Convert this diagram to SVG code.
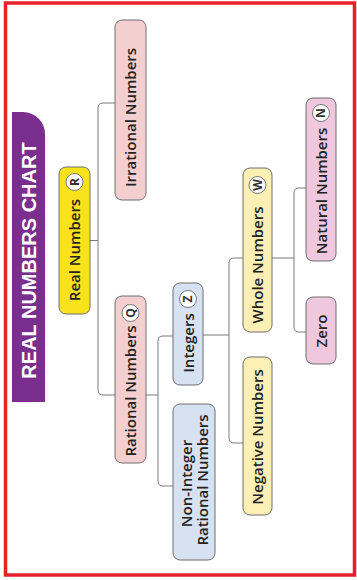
<svg xmlns="http://www.w3.org/2000/svg" width="357" height="580" viewBox="0 0 357 580">
<style>
.box{stroke:#6e6e6e;stroke-width:1}
.pink{fill:#f4cfcf}
.mag{fill:#efc8de}
.yel{fill:#f8e21c}
.lyel{fill:#fdf0b4}
.blue{fill:#d6e1f1}
.t{font-family:"Open Sans","Liberation Sans",sans-serif;font-size:15px;font-weight:600;fill:#222;text-anchor:middle}
.badge{fill:#fff;stroke:#777;stroke-width:1}
.bt{font-family:"Open Sans","Liberation Sans",sans-serif;font-size:12px;font-weight:700;fill:#333;text-anchor:middle}
.conn{fill:none;stroke:#7a7a7a;stroke-width:1}
</style>
<rect x="5.5" y="3" width="349" height="572" fill="#fff" stroke="#e8202a" stroke-width="3.5"/>
<g id="title">
<path d="M12,402 V112 H23 A22,22 0 0 1 45,134 V402 Z" fill="#7a2e8e"/>
<text transform="translate(35.5,260.5) rotate(-90)" font-family="'Liberation Sans',Arial,sans-serif" font-size="20" font-weight="700" fill="#fff" text-anchor="middle">REAL NUMBERS CHART</text>
</g>
<g id="connectors">
<path class="conn" d="M90,240.5 H98 M115,103 H103 Q98,103 98,108 V390 Q98,395 103,395 H115"/>
<path class="conn" d="M146,395 H158 M173,336 H163 Q158,336 158,341 V481 Q158,486 163,486 H173"/>
<path class="conn" d="M203,335 H229 M243,258 H234 Q229,258 229,263 V438 Q229,443 234,443 H243"/>
<path class="conn" d="M272,258 H294 M306,188 H299 Q294,188 294,193 V327 Q294,332 299,332 H306"/>
</g>
<g id="irrational">
<rect class="box pink" x="115" y="20" width="31" height="180" rx="7"/>
<text class="t" transform="translate(136,117.5) rotate(-90)">Irrational Numbers</text>
</g>
<g id="real">
<rect class="box yel" x="59" y="167" width="31" height="147" rx="7"/>
<text class="t" transform="translate(80,250) rotate(-90)">Real Numbers</text>
<circle class="badge" cx="74.5" cy="182" r="8.5"/>
<text class="bt" transform="translate(78.8,182) rotate(-90)">R</text>
</g>
<g id="rational">
<rect class="box pink" x="115" y="296" width="31" height="167" rx="7"/>
<text class="t" transform="translate(136,391) rotate(-90)">Rational Numbers</text>
<circle class="badge" cx="130.5" cy="313" r="8.5"/>
<text class="bt" transform="translate(134.8,313) rotate(-90)">Q</text>
</g>
<g id="integers">
<rect class="box blue" x="173" y="283" width="30" height="102" rx="7"/>
<text class="t" transform="translate(193.5,343) rotate(-90)">Integers</text>
<circle class="badge" cx="188" cy="299" r="8.5"/>
<text class="bt" transform="translate(192.3,299) rotate(-90)">Z</text>
</g>
<g id="noninteger">
<rect class="box blue" x="173" y="404" width="42" height="156" rx="7"/>
<text class="t" transform="translate(191.5,483.5) rotate(-90)">Non-Integer</text>
<text class="t" transform="translate(208,480) rotate(-90)">Rational Numbers</text>
</g>
<g id="whole">
<rect class="box lyel" x="243" y="168" width="29" height="164" rx="7"/>
<text class="t" transform="translate(263,265) rotate(-90)">Whole Numbers</text>
<circle class="badge" cx="257.5" cy="185" r="8.5"/>
<text class="bt" transform="translate(261.8,185) rotate(-90)">W</text>
</g>
<g id="negative">
<rect class="box lyel" x="243" y="357" width="29" height="158" rx="7"/>
<text class="t" transform="translate(263,437) rotate(-90)">Negative Numbers</text>
</g>
<g id="natural">
<rect class="box mag" x="306" y="98" width="30" height="163" rx="7"/>
<text class="t" transform="translate(326.5,191) rotate(-90)">Natural Numbers</text>
<circle class="badge" cx="321" cy="113" r="8.5"/>
<text class="bt" transform="translate(325.3,113) rotate(-90)">N</text>
</g>
<g id="zero">
<rect class="box mag" x="306" y="297" width="30" height="67" rx="7"/>
<text class="t" transform="translate(326.5,331) rotate(-90)">Zero</text>
</g>
</svg>
